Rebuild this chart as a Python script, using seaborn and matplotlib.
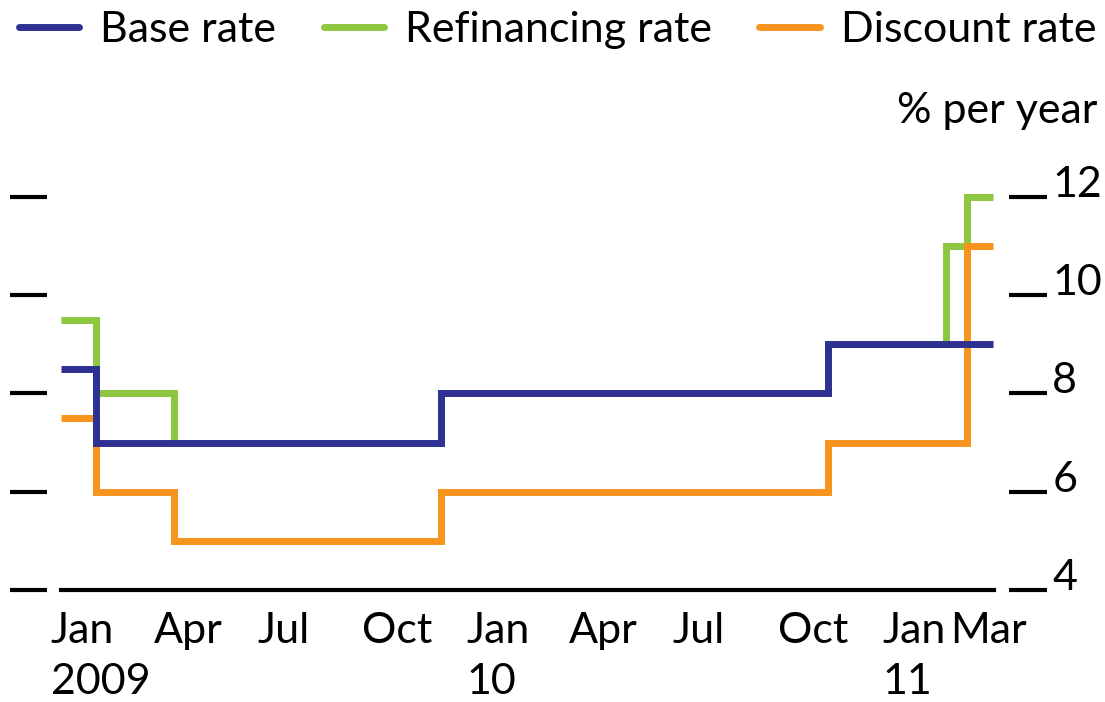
import matplotlib
matplotlib.use("Agg")
import matplotlib.pyplot as plt
import matplotlib.transforms as mtransforms
import numpy as np
import pandas as pd
import seaborn as sns

# policy rate changes (step start dates), last entry = end of the series
change_dates = ['2009-01-01', '2009-02-01', '2009-04-10', '2009-12-01',
                '2010-11-05', '2011-02-17', '2011-03-07', '2011-03-30']
base_rate = [8.5, 7, 7, 8, 9, 9, 9, 9]
refinancing_rate = [9.5, 8, 7, 8, 9, 11, 12, 12]
discount_rate = [7.5, 6, 5, 6, 7, 7, 11, 11]

series_names = ['Base rate', 'Refinancing rate', 'Discount rate']
series_colors = {'Base rate': '#2e3192', 'Refinancing rate': '#8dc63f',
                 'Discount rate': '#f7941d'}

tick_dates = ['2009-01-01', '2009-04-01', '2009-07-01', '2009-10-01',
              '2010-01-01', '2010-04-01', '2010-07-01', '2010-10-01',
              '2011-01-01', '2011-03-01']
tick_labels = ['Jan\n2009', 'Apr', 'Jul', 'Oct', 'Jan\n10', 'Apr', 'Jul',
               'Oct', 'Jan\n11', 'Mar']
y_ticks = [4, 6, 8, 10, 12]

df = pd.DataFrame({
    'date': pd.to_datetime(change_dates * 3),
    'rate': base_rate + refinancing_rate + discount_rate,
    'series': np.repeat(series_names, len(change_dates)),
})

sns.set_style('white')
plt.rcParams['font.family'] = ['Lato', 'DejaVu Sans']
plt.rcParams['text.color'] = 'black'
plt.rcParams['xtick.color'] = 'black'
plt.rcParams['ytick.color'] = 'black'
fs = 31

fig = plt.figure(figsize=(11.05, 7.02), dpi=100)
ax = fig.add_axes([0.0552, 0.1595, 0.8443, 0.5954])

# draw green first, then orange, base rate on top
sns.lineplot(data=df, x='date', y='rate', hue='series',
             hue_order=['Refinancing rate', 'Discount rate', 'Base rate'],
             palette=series_colors, drawstyle='steps-post', linewidth=5,
             legend=False, ax=ax)
for ln in ax.lines:
    ln.set_solid_joinstyle('miter')
    ln.set_solid_capstyle('butt')

ax.set_xlim(pd.Timestamp('2009-01-01'), pd.Timestamp('2011-03-31'))
ax.set_ylim(4, 12.5)
ax.set_xlabel('')
ax.set_ylabel('')

for side in ['top', 'left', 'right']:
    ax.spines[side].set_visible(False)
ax.spines['left'].set_position(('outward', 10))
ax.spines['right'].set_position(('outward', 11))
ax.spines['bottom'].set_linewidth(3)
ax.spines['bottom'].set_color('black')

# month labels start at the month, year under it
ax.set_xticks(pd.to_datetime(tick_dates))
ax.set_xticklabels(tick_labels, fontsize=fs, linespacing=1.4, ha='left',
                   multialignment='left')
ax.tick_params(axis='x', length=0, pad=16)
shift = mtransforms.ScaledTranslation(-10 / 100, 0, fig.dpi_scale_trans)
for lab in ax.get_xticklabels():
    lab.set_transform(lab.get_transform() + shift)

ax.set_yticks(y_ticks)
ax.yaxis.set_ticks_position('both')
ax.tick_params(axis='y', which='both', direction='out', length=27, width=3,
               color='black', left=True, right=True, labelleft=False,
               labelright=True, labelsize=fs, pad=4)
# numbers sit on the tick marks
for t in ax.yaxis.get_major_ticks():
    t.label2.set_verticalalignment('baseline')

fig.text(0.9928, 0.8248, '% per year', fontsize=fs, ha='right',
         va='baseline')

handles = [plt.Line2D([], [], color=series_colors[n], lw=5) for n in series_names]
fig.legend(handles, series_names, loc='center left',
           bbox_to_anchor=(0.017, 1 - 30 / 702), ncol=3, frameon=False,
           fontsize=fs, handlelength=1.4, handletextpad=0.49,
           columnspacing=1.1, borderpad=0, borderaxespad=0)

fig.savefig('out.png', dpi=100)
